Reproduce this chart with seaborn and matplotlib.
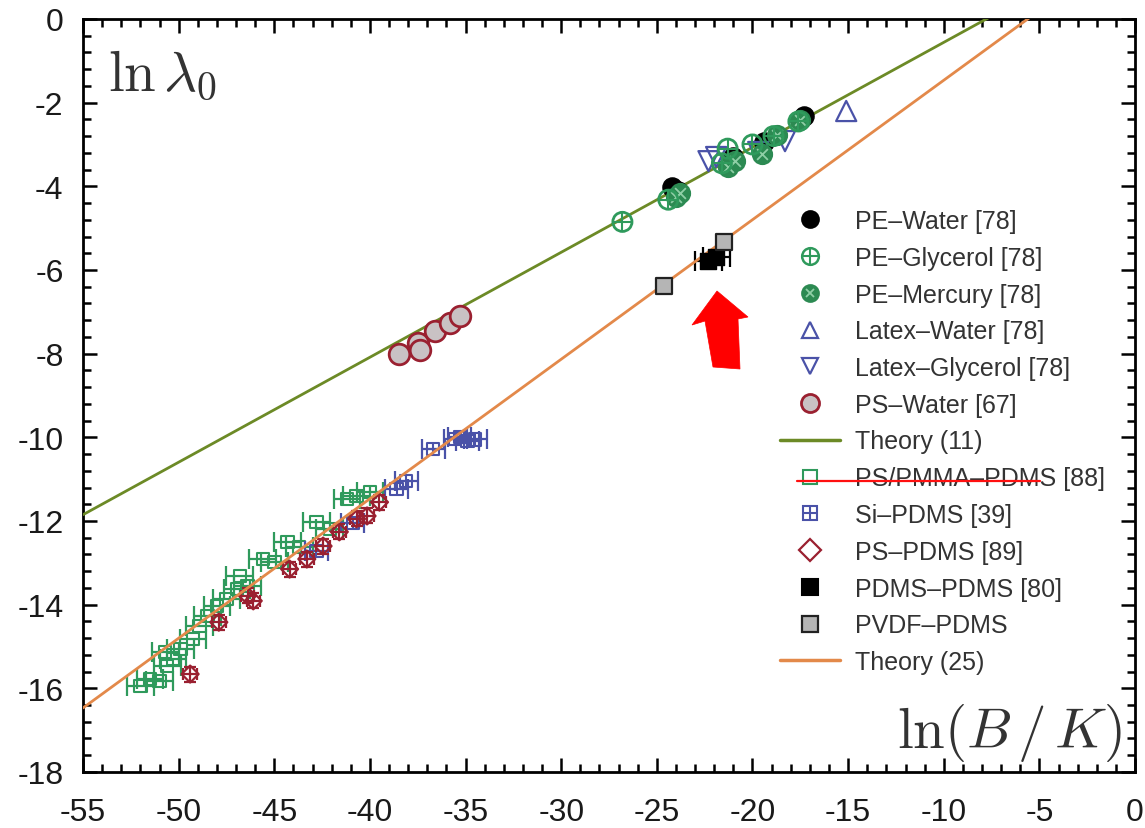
import numpy as np
import matplotlib
matplotlib.use("Agg")
import matplotlib.pyplot as plt
from matplotlib.lines import Line2D
from matplotlib.patches import Polygon
from matplotlib.legend_handler import HandlerTuple
import seaborn as sns

# ---------------- data: ln(B/K) vs ln(lambda_0) ----------------
pe_water_x = [-24.2, -23.9, -21.0, -19.4, -17.3]
pe_water_y = [-4.02, -4.12, -3.30, -2.95, -2.33]

pe_gly_x = [-26.8, -24.4, -21.6, -21.3, -20.0, -18.9, -17.6]
pe_gly_y = [-4.85, -4.32, -3.45, -3.10, -3.00, -2.80, -2.45]

pe_hg_x = [-24.0, -23.8, -21.3, -20.9, -19.5, -18.7, -17.5]
pe_hg_y = [-4.25, -4.15, -3.55, -3.40, -3.22, -2.78, -2.42]

latex_w_x = [-15.1]
latex_w_y = [-2.2]

latex_g_x = [-22.3, -21.9, -19.7, -18.3]
latex_g_y = [-3.40, -3.30, -3.18, -2.92]

ps_water_x = [-38.5, -37.5, -37.4, -36.6, -35.8, -35.3]
ps_water_y = [-8.00, -7.75, -7.92, -7.45, -7.27, -7.10]

theory11_x = [-55.0, 0.0]
theory11_y = [-11.85, 1.95]

pspmma_x = [-52.0, -51.5, -51.0, -50.6, -50.7, -50.3, -49.9, -49.25, -48.9, -48.5,
            -48.0, -47.5, -46.95, -46.4, -46.8, -45.6, -45.0, -44.3, -43.7, -42.8,
            -42.1, -41.2, -40.7, -40.0]
pspmma_y = [-15.95, -15.78, -15.83, -15.47, -15.13, -15.30, -15.06, -14.82, -14.51, -14.27,
            -14.03, -13.87, -13.63, -13.55, -13.32, -12.91, -12.98, -12.50, -12.62, -12.02,
            -12.19, -11.47, -11.40, -11.31]

si_x = [-42.8, -40.9, -38.6, -38.1, -36.7, -35.55, -35.3, -34.9, -34.5]
si_y = [-12.72, -12.05, -11.24, -11.04, -10.28, -10.04, -9.99, -10.09, -10.05]

pspdms_x = [-49.4, -47.9, -46.1, -46.4, -44.2, -43.3, -42.45, -41.6, -40.7, -40.15, -39.5]
pspdms_y = [-15.66, -14.42, -13.91, -13.79, -13.15, -12.91, -12.60, -12.26, -11.95, -11.88, -11.55]

pdms_x = [-22.3, -21.9]
pdms_y = [-5.78, -5.70]

pvdf_x = [-24.6, -21.5]
pvdf_y = [-6.38, -5.33]

theory25_x = [-55.0, 0.0]
theory25_y = [-16.47, 1.87]

x_ticks = list(range(-55, 1, 5))
y_ticks = list(range(-18, 1, 2))

# ---------------- style ----------------
sns.set_theme(style="ticks")
plt.rcParams["font.family"] = ["Liberation Sans", "DejaVu Sans"]
plt.rcParams["mathtext.fontset"] = "cm"

GREEN = "#2f9a5c"
DKGREEN = "#2c8a52"
BLUE = "#4a52a8"
DKRED = "#9a2030"
OLIVE = "#6c8a26"
ORANGE = "#e3894a"
GRAY = "#b5b5b5"
HGX = "#8fcfa6"

fig = plt.figure(figsize=(11.45, 8.29), dpi=100)
ax = fig.add_axes([0.0725, 0.0676, 0.9188, 0.9083])

# theory lines
sns.lineplot(x=theory11_x, y=theory11_y, color=OLIVE, linewidth=2.0, ax=ax, zorder=3)
sns.lineplot(x=theory25_x, y=theory25_y, color=ORANGE, linewidth=2.0, ax=ax, zorder=3)

# ---- lower family (PDMS substrates) ----
ax.errorbar(pspmma_x, pspmma_y, xerr=0.7, fmt="none", ecolor=GREEN,
            elinewidth=1.6, capsize=7, capthick=1.6, zorder=2)
sns.scatterplot(x=pspmma_x, y=pspmma_y, marker="s", s=80, facecolor="none",
                edgecolor=GREEN, linewidth=1.5, ax=ax, zorder=2)

ax.errorbar(si_x, si_y, xerr=0.6, fmt="none", ecolor=BLUE,
            elinewidth=1.6, capsize=7, capthick=1.6, zorder=2)
sns.scatterplot(x=si_x, y=si_y, marker="s", s=80, facecolor="none",
                edgecolor=BLUE, linewidth=1.5, ax=ax, zorder=2)
sns.scatterplot(x=si_x, y=si_y, marker="+", s=80, color=BLUE,
                linewidth=1.5, ax=ax, zorder=2)

ax.errorbar(pspdms_x, pspdms_y, xerr=0.35, yerr=0.18, fmt="none", ecolor=DKRED,
            elinewidth=1.6, capsize=4, capthick=1.6, zorder=2)
sns.scatterplot(x=pspdms_x, y=pspdms_y, marker="D", s=75, facecolor="none",
                edgecolor=DKRED, linewidth=1.6, ax=ax, zorder=2)

ax.errorbar(pdms_x, pdms_y, xerr=0.7, fmt="none", ecolor="black",
            elinewidth=1.6, capsize=7, capthick=1.6, zorder=2)
sns.scatterplot(x=pdms_x, y=pdms_y, marker="s", s=120, color="black",
                edgecolor="black", linewidth=1.0, ax=ax, zorder=4)

sns.scatterplot(x=pvdf_x, y=pvdf_y, marker="s", s=130, color=GRAY,
                edgecolor="#222222", linewidth=1.6, ax=ax, zorder=4)

# ---- upper family ----
sns.scatterplot(x=ps_water_x, y=ps_water_y, marker="o", s=220, color="#c9c2c4",
                edgecolor=DKRED, linewidth=2.0, ax=ax, zorder=4)

sns.scatterplot(x=pe_water_x, y=pe_water_y, marker="o", s=190, color="black",
                edgecolor="black", linewidth=1.0, ax=ax, zorder=4)

sns.scatterplot(x=latex_w_x, y=latex_w_y, marker="^", s=210, facecolor="none",
                edgecolor=BLUE, linewidth=1.6, ax=ax, zorder=4)
sns.scatterplot(x=latex_g_x, y=latex_g_y, marker="v", s=210, facecolor="none",
                edgecolor=BLUE, linewidth=1.6, ax=ax, zorder=4)

sns.scatterplot(x=pe_hg_x, y=pe_hg_y, marker="o", s=190, color=DKGREEN,
                edgecolor=DKGREEN, linewidth=1.5, ax=ax, zorder=5)
sns.scatterplot(x=pe_hg_x, y=pe_hg_y, marker="x", s=60, color=HGX,
                linewidth=1.3, ax=ax, zorder=5)

sns.scatterplot(x=pe_gly_x, y=pe_gly_y, marker="o", s=190, facecolor="none",
                edgecolor=GREEN, linewidth=2.0, ax=ax, zorder=5)
sns.scatterplot(x=pe_gly_x, y=pe_gly_y, marker="+", s=190, color=GREEN,
                linewidth=1.5, ax=ax, zorder=5)

# ---------------- axes ----------------
ax.set_xlim(-55, 0)
ax.set_ylim(-18, 0)
ax.set_xticks(x_ticks)
ax.set_yticks(y_ticks)
ax.set_xticklabels([str(v) for v in x_ticks])
ax.set_yticklabels([str(v) for v in y_ticks])
ax.xaxis.set_minor_locator(matplotlib.ticker.MultipleLocator(1))
ax.yaxis.set_minor_locator(matplotlib.ticker.MultipleLocator(0.4))
ax.tick_params(which="both", direction="in", top=True, right=True, width=1.8,
               color="black")
ax.tick_params(which="major", length=10, labelsize=23, labelcolor="#1a1a1a")
ax.tick_params(axis="x", which="major", pad=18)
ax.tick_params(axis="y", which="major", pad=14)
ax.tick_params(which="minor", length=6)
for sp in ax.spines.values():
    sp.set_visible(True)
    sp.set_linewidth(2.0)
    sp.set_color("black")
ax.set_xlabel("")
ax.set_ylabel("")

ax.text(0.024, 0.962, r"$\ln\lambda_0$", transform=ax.transAxes, fontsize=41,
        ha="left", va="top", color="#333333")
ax.text(0.987, 0.012, r"$\ln(B\,/\,K)$", transform=ax.transAxes, fontsize=41,
        ha="right", va="bottom", color="#333333")

# ---------------- legend ----------------
def mk(marker, ms, fc, ec, mew=1.5):
    return Line2D([], [], linestyle="none", marker=marker, markersize=ms,
                  markerfacecolor=fc, markeredgecolor=ec, markeredgewidth=mew)

handles = [
    mk("o", 12, "black", "black"),
    (mk("o", 12, "none", GREEN, 1.8), mk("+", 12, "none", GREEN, 1.5)),
    (mk("o", 12, DKGREEN, DKGREEN), mk("x", 6, "none", HGX, 1.3)),
    mk("^", 12, "none", BLUE, 1.6),
    mk("v", 12, "none", BLUE, 1.6),
    mk("o", 13, "#c9c2c4", DKRED, 2.0),
    Line2D([], [], color=OLIVE, linewidth=2.5),
    mk("s", 10, "none", GREEN, 1.5),
    (mk("s", 10, "none", BLUE, 1.5), mk("+", 10, "none", BLUE, 1.5)),
    mk("D", 11, "none", DKRED, 1.6),
    mk("s", 11, "black", "black"),
    mk("s", 11, GRAY, "#222222", 1.6),
    Line2D([], [], color=ORANGE, linewidth=2.5),
]
labels = [
    "PE\u2013Water [78]",
    "PE\u2013Glycerol [78]",
    "PE\u2013Mercury [78]",
    "Latex\u2013Water [78]",
    "Latex\u2013Glycerol [78]",
    "PS\u2013Water [67]",
    "Theory (11)",
    "PS/PMMA\u2013PDMS [88]",
    "Si\u2013PDMS [39]",
    "PS\u2013PDMS [89]",
    "PDMS\u2013PDMS [80]",
    "PVDF\u2013PDMS",
    "Theory (25)",
]
leg = ax.legend(handles, labels, loc="upper left",
                bbox_to_anchor=(780 / 1145, 1 - 210 / 829),
                bbox_transform=fig.transFigure, frameon=False, fontsize=18,
                handlelength=2.4, handletextpad=0.6, labelspacing=0.51,
                borderpad=0, borderaxespad=0,
                handler_map={tuple: HandlerTuple(ndivide=1, pad=0)})
for t in leg.get_texts():
    t.set_color("#333333")
leg.set_zorder(10)

# strike-through line over one legend entry
fig.add_artist(Line2D([797 / 1145, 1040 / 1145], [1 - 482 / 829, 1 - 482 / 829],
                      color="#ff1010", linewidth=1.6, zorder=20))

# red arrow pointing at the PDMS-PDMS point
arrow_px = [(717, 292), (748, 318), (738, 320), (740, 370),
            (713, 368), (705, 322), (692, 326)]
arrow = Polygon([(px / 1145, 1 - py / 829) for px, py in arrow_px], closed=True,
                transform=fig.transFigure, facecolor="#ff0000",
                edgecolor="#ff0000", linewidth=0.5, zorder=20)
fig.add_artist(arrow)

fig.savefig("out.png", dpi=100)
